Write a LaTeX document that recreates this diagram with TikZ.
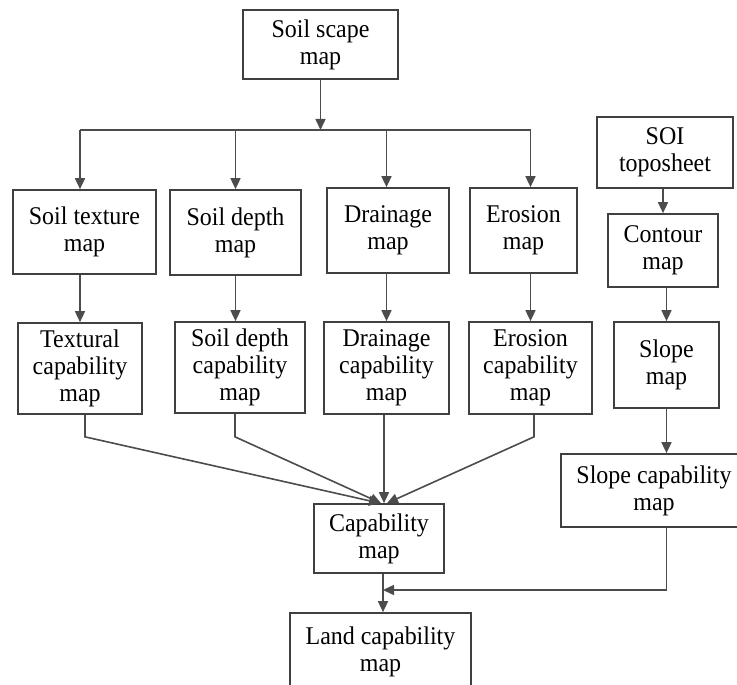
\documentclass[tikz,border=0pt]{standalone}
\usepackage{fontspec}
\setmainfont{Liberation Serif}[FakeStretch=0.94]
\usetikzlibrary{arrows.meta}

\begin{document}
\begin{tikzpicture}[x=1pt, y=-1pt,
    box/.style={draw=black!75, line width=1.7pt, align=center, inner sep=0pt,
      font=\fontsize{25.5}{27}\selectfont},
    arr/.style={draw=black!70, line width=1.6pt, -{Triangle[length=11pt,width=10pt]}},
    ln/.style={draw=black!70, line width=1.6pt}]
  \useasboundingbox (0,0) rectangle (737,685);

  % Soil scape map and its four maps
  \node[box, minimum width=155pt, minimum height=69pt] (scape) at (320.5,44.5) {Soil scape\\map};
  \node[box, minimum width=143pt, minimum height=84pt] (texture) at (84.5,232) {Soil texture\\map};
  \node[box, minimum width=131pt, minimum height=85pt] (depth) at (235.5,232.5) {Soil depth\\map};
  \node[box, minimum width=122pt, minimum height=85pt] (drain) at (388,230.5) {Drainage\\map};
  \node[box, minimum width=107pt, minimum height=85pt] (eros) at (523.5,230.5) {Erosion\\map};

  % Capability maps
  \node[box, minimum width=124pt, minimum height=91pt] (textcap) at (80,368.5) {Textural\\capability\\map};
  \node[box, minimum width=130pt, minimum height=91pt] (depthcap) at (240,367.5) {Soil depth\\capability\\map};
  \node[box, minimum width=125pt, minimum height=92pt] (draincap) at (386.5,368) {Drainage\\capability\\map};
  \node[box, minimum width=123pt, minimum height=92pt] (eroscap) at (530.5,368) {Erosion\\capability\\map};

  % SOI toposheet branch
  \node[box, minimum width=136pt, minimum height=71pt] (soi) at (665,152.5) {SOI\\toposheet};
  \node[box, minimum width=110pt, minimum height=73pt] (contour) at (663,250.5) {Contour\\map};
  \node[box, minimum width=105pt, minimum height=86pt] (slope) at (666.5,365) {Slope\\map};
  \node[box, minimum width=186pt, minimum height=73pt] (slopecap) at (654,490.5) {Slope capability\\map};

  % Result
  \node[box, minimum width=130pt, minimum height=69pt] (cap) at (379,538.5) {Capability\\map};
  \node[box, minimum width=181pt, minimum height=77pt] (land) at (380.5,651.5) {Land capability\\map};

  % Bus from soil scape map
  \coordinate (bus) at (320.5,130);
  \draw[arr] (scape) -- (bus);
  \draw[ln] (bus -| textcap) -- (bus -| eroscap);
  \draw[arr] (bus -| textcap) -- (textcap |- texture.north);
  \draw[arr] (bus -| depth) -- (depth.north);
  \draw[arr] (bus -| draincap) -- (draincap |- drain.north);
  \draw[arr] (bus -| eroscap) -- (eroscap |- eros.north);

  % Maps to capability maps
  \draw[arr] (textcap |- texture.south) -- (textcap.north);
  \draw[arr] (depth.south) -- (depth.south |- depthcap.north);
  \draw[arr] (draincap |- drain.south) -- (draincap.north);
  \draw[arr] (eroscap |- eros.south) -- (eroscap.north);

  % Converging lines
  \draw[arr] ([xshift=5pt]textcap.south) -- ++(0,22) -- ([xshift=1pt]cap.north);
  \draw[arr] ([xshift=-5pt]depthcap.south) -- ++(0,23) -- ([xshift=2pt]cap.north);
  \draw[arr] ([xshift=-2.5pt]draincap.south) -- ([xshift=5pt]cap.north);
  \draw[arr] ([xshift=3.5pt]eroscap.south) -- ++(0,22) -- ([xshift=8pt]cap.north);

  % SOI branch
  \draw[arr] (contour.north |- soi.south) -- (contour.north);
  \draw[arr] (slope.north |- contour.south) -- (slope.north);
  \draw[arr] (slope.south) -- (slope.south |- slopecap.north);

  % To land capability map
  \coordinate (merge) at (383,590);
  \draw[arr] ([xshift=4pt]cap.south) -- ([xshift=2.5pt]land.north);
  \draw[arr] (slopecap.south -| slope.south) |- (merge);
\end{tikzpicture}
\end{document}
